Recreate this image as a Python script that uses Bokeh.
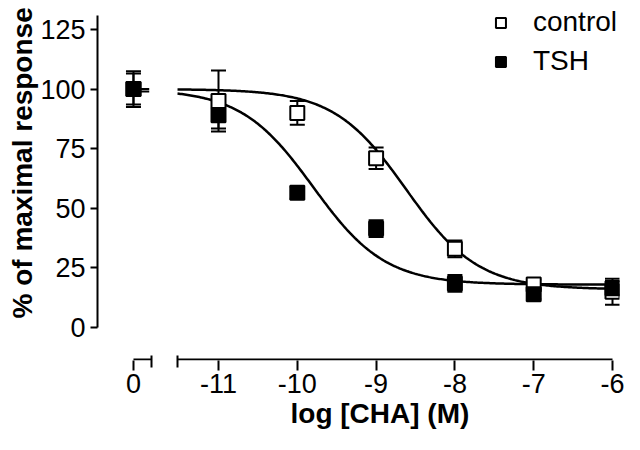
import numpy as np
from bokeh.plotting import figure
from bokeh.models import (ColumnDataSource, Whisker, TeeHead, FixedTicker, Range1d,
                          Legend, LegendItem, Title)
from bokeh.embed import file_html
from bokeh.resources import INLINE

# ---------------- data ----------------
log_cha = [-11, -10, -9, -8, -7, -6]
x_labels = ["0", "-11", "-10", "-9", "-8", "-7", "-6"]
control_mean = [100, 95, 90, 71, 33, 18, 15]
control_sem = [7.5, 12.8, 5, 4.5, 3.5, 2, 5.5]
tsh_mean = [100, 89, 56.5, 41.5, 18.5, 14, 16.5]
tsh_sem = [6.5, 5.5, 2.5, 3.5, 3.5, 2, 3]
y_ticks = [0, 25, 50, 75, 100, 125]

# fitted sigmoid parameters (top, bottom, logIC50, Hill slope)
control_fit = dict(top=100.0, bottom=16.0, log_ic50=-8.62, hill=0.95)
tsh_fit = dict(top=100.0, bottom=18.0, log_ic50=-9.8, hill=0.95)

# ---------------- axis-break layout ----------------
zero_slot = -12.079     # where the "0" dose sits on the broken axis
break_left = -11.85
break_right = -11.52
x_pos = [zero_slot] + log_cha
x_start, x_end = -12.5355, -5.9112
y_start, y_end = -13.84, 135.49
y_axis_top = 130.9
x_axis_y = -13.42

FONT = "Liberation Sans"


def logistic(x, top, bottom, log_ic50, hill):
    return bottom + (top - bottom) / (1.0 + 10.0 ** ((np.asarray(x) - log_ic50) * hill))


p = figure(width=624, height=434, output_backend="svg", toolbar_location=None,
           x_range=Range1d(x_start, x_end), y_range=Range1d(y_start, y_end),
           min_border_left=97, min_border_right=5, min_border_top=4, min_border_bottom=74)
p.outline_line_color = None
p.xgrid.visible = False
p.ygrid.visible = False
p.background_fill_color = "white"
p.border_fill_color = "white"

# axis lines (broken x axis)
p.line([zero_slot, break_left], [x_axis_y, x_axis_y], line_color="black", line_width=2)
p.line([break_right, log_cha[-1]], [x_axis_y, x_axis_y], line_color="black", line_width=2)

# fitted curves
xs = np.linspace(break_right, log_cha[-1], 300)
p.line(xs, logistic(xs, **control_fit), line_color="black", line_width=2.5)
p.line(xs, logistic(xs, **tsh_fit), line_color="black", line_width=2.5)
stub = np.array([zero_slot, zero_slot + 0.2])
p.line(stub, logistic(stub - 5, **control_fit), line_color="black", line_width=2)
p.line(stub, logistic(stub - 5, **tsh_fit) - 1, line_color="black", line_width=2)

ctrl_src = ColumnDataSource(dict(
    x=x_pos, y=control_mean,
    upper=[m + s for m, s in zip(control_mean, control_sem)],
    lower=[m - s for m, s in zip(control_mean, control_sem)]))
tsh_src = ColumnDataSource(dict(
    x=x_pos, y=tsh_mean,
    upper=[m + s for m, s in zip(tsh_mean, tsh_sem)],
    lower=[m - s for m, s in zip(tsh_mean, tsh_sem)]))

for src in (ctrl_src, tsh_src):
    w = Whisker(base="x", upper="upper", lower="lower", source=src,
                line_color="black", line_width=2,
                upper_head=TeeHead(size=15, line_color="black", line_width=2),
                lower_head=TeeHead(size=15, line_color="black", line_width=2))
    p.add_layout(w)

r_ctrl = p.scatter("x", "y", source=ctrl_src, marker="square", size=14,
                   fill_color="white", line_color="black", line_width=2)
r_tsh = p.scatter("x", "y", source=tsh_src, marker="square", size=14,
                  fill_color="black", line_color="black", line_width=2)

# x axis
xa = p.xaxis[0]
xa.ticker = FixedTicker(ticks=x_pos, minor_ticks=[break_left, break_right])
xa.major_label_overrides = {float(k): v for k, v in zip(x_pos, x_labels)}
xa.axis_line_color = None
xa.major_tick_out = 10
xa.major_tick_in = 0
xa.major_tick_line_width = 2
xa.minor_tick_in = 5
xa.minor_tick_out = 7
xa.minor_tick_line_width = 2
xa.major_label_standoff = 3
xa.major_label_text_font = FONT
xa.major_label_text_font_size = "27px"
xa.major_label_text_color = "black"

# y axis
ya = p.yaxis[0]
ya.ticker = FixedTicker(ticks=y_ticks, minor_ticks=[])
ya.bounds = (0, y_axis_top)
ya.axis_line_width = 2
ya.axis_line_color = "black"
ya.major_tick_out = 7
ya.major_tick_in = 0
ya.major_tick_line_width = 2
ya.major_label_standoff = 5
ya.major_label_text_font = FONT
ya.major_label_text_font_size = "27px"
ya.major_label_text_color = "black"

# axis titles as side-panel titles (precise placement)
p.add_layout(Title(text="log [CHA] (M)", align="left", offset=193, standoff=0,
                   text_font=FONT, text_font_size="28px", text_font_style="bold",
                   text_color="black"), "below")
p.add_layout(Title(text="% of maximal response", align="left", offset=42, standoff=0,
                   text_font=FONT, text_font_size="28px", text_font_style="bold",
                   text_color="black"), "left")

legend = Legend(items=[LegendItem(label="control", renderers=[r_ctrl]),
                       LegendItem(label="TSH", renderers=[r_tsh])],
                location="top_right", border_line_color=None, background_fill_alpha=0,
                padding=0, margin=2, spacing=7, glyph_width=25, glyph_height=25,
                label_standoff=20, label_text_font=FONT, label_text_font_size="28px",
                label_text_color="black")
p.add_layout(legend)

open("out.html", "w").write(file_html(p, INLINE))
